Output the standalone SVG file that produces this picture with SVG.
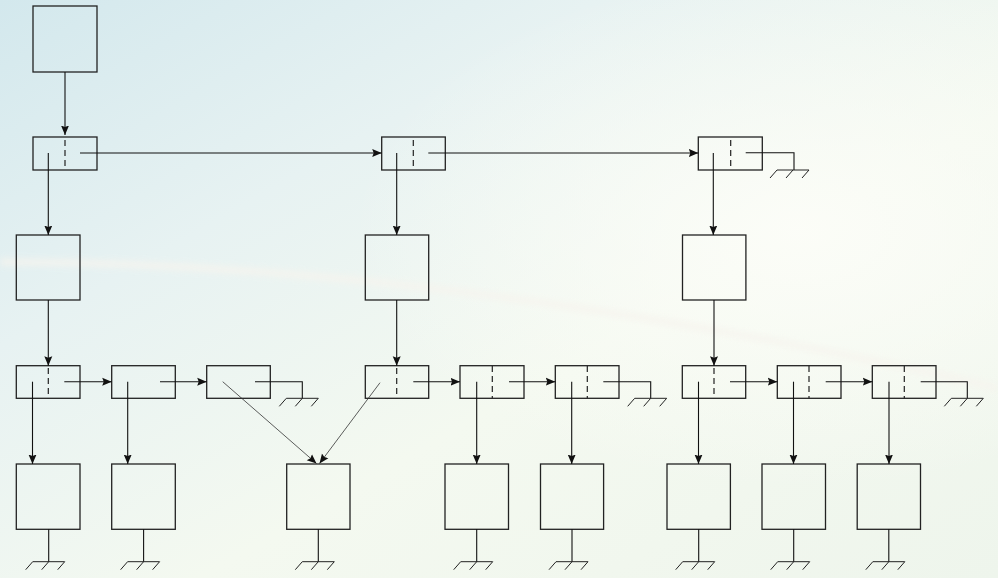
<svg xmlns="http://www.w3.org/2000/svg" width="998" height="578" viewBox="0 0 998 578">
<defs>
<linearGradient id="bg" x1="0" y1="0" x2="1" y2="1">
<stop offset="0" stop-color="#d3e8ed"/>
<stop offset="0.3" stop-color="#e7f2f2"/>
<stop offset="0.6" stop-color="#f4f9f0"/>
<stop offset="1" stop-color="#eef5ec"/>
</linearGradient>
<radialGradient id="glow" cx="0.8" cy="0.4" r="0.45">
<stop offset="0" stop-color="#fcfdf8" stop-opacity="0.95"/>
<stop offset="1" stop-color="#fcfdf8" stop-opacity="0"/>
</radialGradient>
<filter id="soft" x="-5%" y="-50%" width="110%" height="200%"><feGaussianBlur stdDeviation="3"/></filter>
<marker id="ah" markerUnits="userSpaceOnUse" markerWidth="11" markerHeight="9" refX="9.5" refY="4.5" orient="auto">
<path d="M0,0.5 L9.5,4.5 L0,8.5 L1.5,4.5 z" fill="#111"/>
</marker>
<g id="gnd"><path d="M-16,0 H16 M-16,0 l-7,8 M0,0 l-7,8 M16,0 l-7,8" fill="none" stroke="#222" stroke-width="1"/></g>
<style>
.box{fill:none;stroke:#222;stroke-width:1.3}
.div{stroke:#222;stroke-width:1.2;stroke-dasharray:6 4}
.ln{fill:none;stroke:#111;stroke-width:1.1}
.arr{fill:none;stroke:#111;stroke-width:1.1;marker-end:url(#ah)}
.dg{fill:none;stroke:#333;stroke-width:0.8;marker-end:url(#ah)}
</style>
</defs>
<rect width="998" height="578" fill="url(#bg)"/>
<rect width="998" height="578" fill="url(#glow)"/>
<path d="M0,262 Q450,262 998,388" fill="none" stroke="#f6f4ee" stroke-width="7" opacity="0.8" filter="url(#soft)"/>

<g id="head"><rect class="box" x="33" y="6" width="64" height="66"/></g>

<g id="t1"><rect class="box" x="33" y="137" width="64" height="33"/><line class="div" x1="65" y1="140" x2="65" y2="170"/></g>
<g id="t2"><rect class="box" x="381.7" y="137" width="63.6" height="33"/><line class="div" x1="413.3" y1="140" x2="413.3" y2="170"/></g>
<g id="t3"><rect class="box" x="698.3" y="137" width="64" height="33"/><line class="div" x1="730.7" y1="140" x2="730.7" y2="170"/></g>

<g id="m1"><rect class="box" x="16.3" y="235" width="63.7" height="65"/></g>
<g id="m2"><rect class="box" x="365.3" y="235" width="63.4" height="65"/></g>
<g id="m3"><rect class="box" x="682.5" y="235" width="63.4" height="65"/></g>

<g id="cA"><rect class="box" x="16.3" y="365.7" width="63.7" height="32.6"/><line class="div" x1="48.3" y1="368" x2="48.3" y2="398.3"/></g>
<g id="cB"><rect class="box" x="111.7" y="365.7" width="63.6" height="32.6"/></g>
<g id="cC"><rect class="box" x="206.7" y="365.7" width="63.6" height="32.6"/></g>
<g id="cD"><rect class="box" x="365.3" y="365.7" width="63.4" height="32.6"/><line class="div" x1="396.7" y1="368" x2="396.7" y2="398.3"/></g>
<g id="cE"><rect class="box" x="460" y="365.7" width="64" height="32.6"/><line class="div" x1="492.3" y1="366" x2="492.3" y2="398.3"/></g>
<g id="cF"><rect class="box" x="555.3" y="365.7" width="63.7" height="32.6"/><line class="div" x1="587.3" y1="366" x2="587.3" y2="398.3"/></g>
<g id="cG"><rect class="box" x="682.3" y="365.7" width="63.4" height="32.6"/><line class="div" x1="714" y1="368" x2="714" y2="398.3"/></g>
<g id="cH"><rect class="box" x="777.3" y="365.7" width="63.7" height="32.6"/><line class="div" x1="809" y1="366" x2="809" y2="398.3"/></g>
<g id="cI"><rect class="box" x="872.3" y="365.7" width="63.7" height="32.6"/><line class="div" x1="904.3" y1="366" x2="904.3" y2="398.3"/></g>

<g id="b1"><rect class="box" x="16.3" y="464" width="63.7" height="65.3"/></g>
<g id="b2"><rect class="box" x="111.7" y="464" width="63.6" height="65.3"/></g>
<g id="b3"><rect class="box" x="286.7" y="464" width="63.3" height="65.3"/></g>
<g id="b4"><rect class="box" x="445" y="464" width="63.5" height="65.3"/></g>
<g id="b5"><rect class="box" x="540.5" y="464" width="63.1" height="65.3"/></g>
<g id="b6"><rect class="box" x="667" y="464" width="63.4" height="65.3"/></g>
<g id="b7"><rect class="box" x="762" y="464" width="63.5" height="65.3"/></g>
<g id="b8"><rect class="box" x="857.2" y="464" width="63.3" height="65.3"/></g>

<g id="connectors">
<line class="arr" x1="65" y1="72" x2="65" y2="135"/>
<line class="arr" x1="80" y1="153" x2="381.7" y2="153"/>
<line class="arr" x1="428.3" y1="153" x2="698.3" y2="153"/>
<path class="ln" d="M745.7,152.7 H794 V170"/>
<use href="#gnd" x="793" y="170"/>

<line class="arr" x1="48.3" y1="153" x2="48.3" y2="235"/>
<line class="arr" x1="396.7" y1="153" x2="396.7" y2="235"/>
<line class="arr" x1="713.3" y1="153" x2="713.3" y2="235"/>

<line class="arr" x1="48.3" y1="300" x2="48.3" y2="365.7"/>
<line class="arr" x1="396.7" y1="300" x2="396.7" y2="365.7"/>
<line class="arr" x1="714" y1="300" x2="714" y2="365.7"/>

<line class="arr" x1="64.3" y1="381.7" x2="111.7" y2="381.7"/>
<line class="arr" x1="160" y1="381.7" x2="206.7" y2="381.7"/>
<path class="ln" d="M255,381.7 H302.3 V398.3"/>
<use href="#gnd" x="302.3" y="398.3"/>
<line class="arr" x1="413.3" y1="381.7" x2="460" y2="381.7"/>
<line class="arr" x1="509" y1="381.7" x2="555.3" y2="381.7"/>
<path class="ln" d="M603.3,381.7 H650.7 V398.3"/>
<use href="#gnd" x="650.7" y="398.3"/>
<line class="arr" x1="730" y1="381.7" x2="777.3" y2="381.7"/>
<line class="arr" x1="825.7" y1="381.7" x2="872.3" y2="381.7"/>
<path class="ln" d="M920.7,381.7 H967.3 V398.3"/>
<use href="#gnd" x="967.3" y="398.3"/>

<line class="arr" x1="32.5" y1="381.7" x2="32.5" y2="464"/>
<line class="arr" x1="127.7" y1="381.7" x2="127.7" y2="464"/>
<line class="dg" x1="222.7" y1="381.7" x2="316.5" y2="463.5"/>
<line class="dg" x1="380" y1="382.7" x2="319.5" y2="463.5"/>
<line class="arr" x1="476.7" y1="381.7" x2="476.7" y2="464"/>
<line class="arr" x1="571.7" y1="381.7" x2="571.7" y2="464"/>
<line class="arr" x1="698.5" y1="381.7" x2="698.5" y2="464"/>
<line class="arr" x1="793.5" y1="381.7" x2="793.5" y2="464"/>
<line class="arr" x1="889" y1="381.7" x2="889" y2="464"/>

<line class="ln" x1="48.7" y1="529.3" x2="48.7" y2="561.7"/><use href="#gnd" x="48.7" y="561.7"/>
<line class="ln" x1="143.6" y1="529.3" x2="143.6" y2="561.7"/><use href="#gnd" x="143.6" y="561.7"/>
<line class="ln" x1="318.3" y1="529.3" x2="318.3" y2="561.7"/><use href="#gnd" x="318.3" y="561.7"/>
<line class="ln" x1="476.7" y1="529.3" x2="476.7" y2="561.7"/><use href="#gnd" x="476.7" y="561.7"/>
<line class="ln" x1="572" y1="529.3" x2="572" y2="561.7"/><use href="#gnd" x="572" y="561.7"/>
<line class="ln" x1="698.7" y1="529.3" x2="698.7" y2="561.7"/><use href="#gnd" x="698.7" y="561.7"/>
<line class="ln" x1="793.7" y1="529.3" x2="793.7" y2="561.7"/><use href="#gnd" x="793.7" y="561.7"/>
<line class="ln" x1="888.8" y1="529.3" x2="888.8" y2="561.7"/><use href="#gnd" x="888.8" y="561.7"/>
</g>
</svg>
